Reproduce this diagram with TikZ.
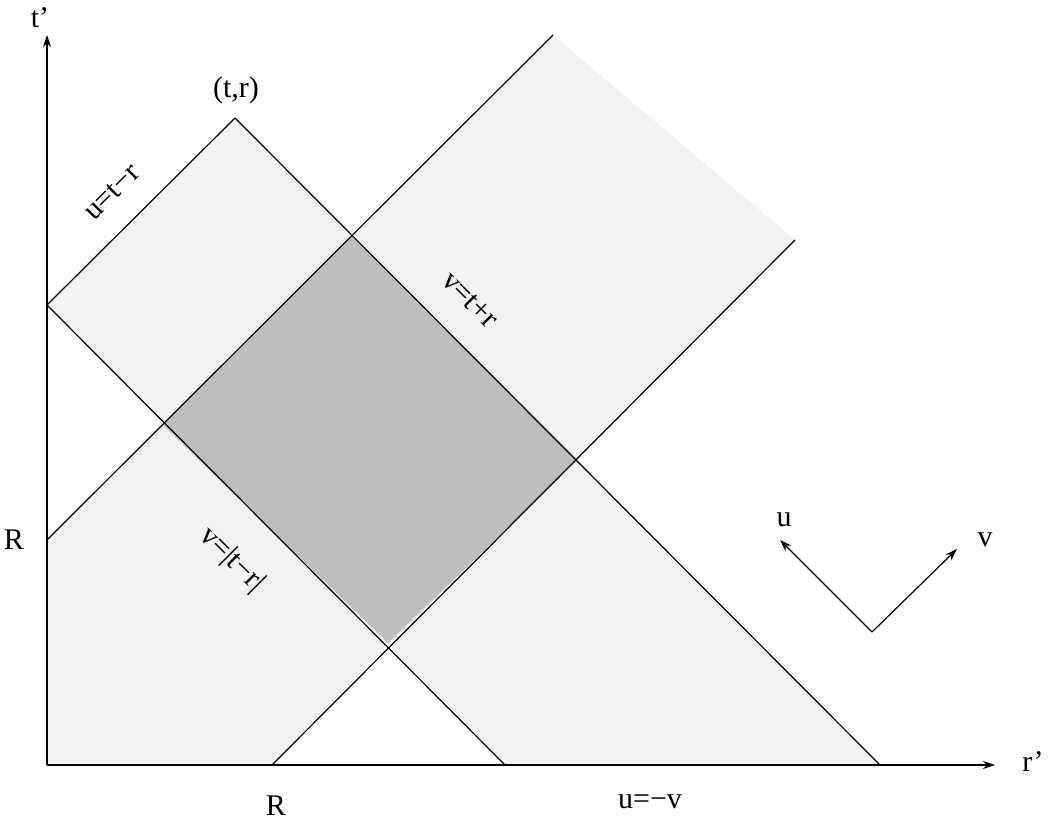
\documentclass[tikz,border=0pt]{standalone}
\usepackage{fontspec}
\setmainfont{Liberation Serif}
\usetikzlibrary{arrows.meta}
\begin{document}
\begin{tikzpicture}[x=1pt,y=-1pt,
  ln/.style={line width=1.2pt,black},
  lab/.style={font=\fontsize{30}{34}\selectfont,inner sep=0pt},
  ar/.style={line width=1.2pt,-{Stealth[length=12pt,width=8pt]}}]
\useasboundingbox (0,0) rectangle (1050,821);
\definecolor{lg}{HTML}{F2F2F2}
\definecolor{dg}{HTML}{BEBEBE}
% fills
\fill[lg] (47,305)--(235,118)--(352,235)--(163,425)--cycle;
\fill[lg] (352,235)--(553,35)--(795,240)--(578,460)--cycle;
\fill[lg] (388,643)--(578,460)--(880,765)--(505,765)--cycle;
\fill[lg] (47,540)--(163,425)--(388,643)--(272,765)--(47,765)--cycle;
\fill[dg] (163,425)--(352,235)--(578,460)--(388,643)--cycle;
% coordinates
\coordinate (O) at (47,765);
\coordinate (T) at (47,35);
\coordinate (Rr) at (995,765);
\coordinate (a1) at (47,305); \coordinate (a2) at (505,765);
\coordinate (b1) at (235,118); \coordinate (b2) at (880,765);
\coordinate (c1) at (272,765); \coordinate (c2) at (795,240);
\coordinate (d1) at (47,540); \coordinate (d2) at (553,35);
% lines
\draw[ln] (a1)--(a2);
\draw[ln] (b1)--(b2);
\draw[ln] (c1)--(c2);
\draw[ln] (d1)--(d2);
\draw[ln] (a1)--(b1);
\draw[ar] (O)--(T);
\draw[ar] (O)--(Rr);
% labels
\node[lab] (tp) at (40,18) {t’};
\node[lab] (rp) at (1033,762) {r’};
\node[lab] (tr) at (236,90) {(t,r)};
\node[lab,rotate=45] (l1) at (112,192) {u=t−r};
\node[lab,rotate=-45] (l2) at (470,300) {v=t+r};
\node[lab,rotate=-45] (l3) at (232,560) {v=|t−r|};
\node[lab] (R1) at (14,540) {R};
\node[lab] (R2) at (276,806) {R};
\node[lab] (uv) at (650,802) {u=−v};
% u v arrows
\coordinate (k) at (872,632);
\draw[ar] (k)--(780,540);
\draw[ar] (k)--(957,549);
\node[lab] (ul) at (784,520) {u};
\node[lab] (vl) at (985,540) {v};
\end{tikzpicture}
\end{document}
